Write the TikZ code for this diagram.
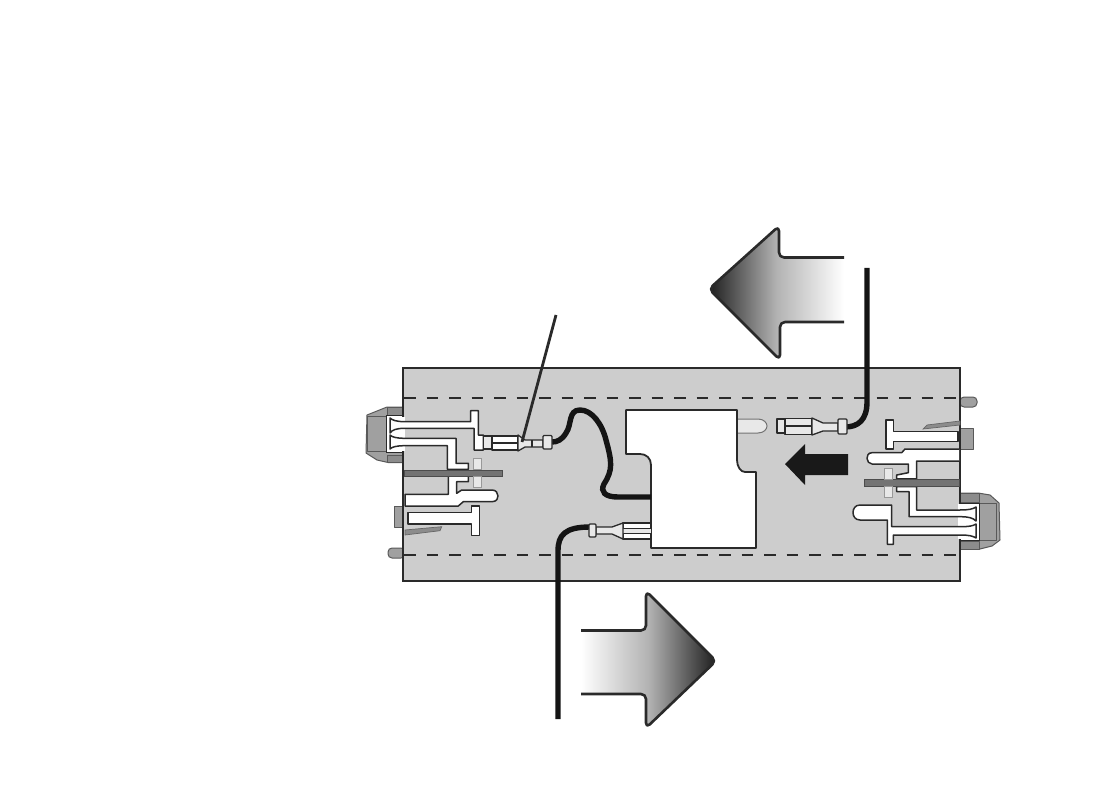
\documentclass[tikz,border=0pt]{standalone}
\definecolor{panel}{HTML}{CDCDCD}
\definecolor{ink}{HTML}{2A2A2A}
\definecolor{capgray}{HTML}{A0A0A0}
\definecolor{pale}{HTML}{E8E8E8}
\tikzset{
  term/.style={draw=ink,fill=white,line width=1.5pt,line join=round},
  capbox/.style={draw=black!65,fill=capgray,line width=1pt,line join=round},
  paletab/.style={draw=black!40,fill=pale,line width=1pt},
  cable/.style={draw=black!92,line width=5.4pt,line cap=butt},
  conn/.style={draw=ink,fill=pale,line width=1.3pt,line join=round},
  dashline/.style={draw=ink,line width=1.2pt,dash pattern=on 11.5pt off 11pt},
  barr/.style={draw=black!70,fill=black!55,line width=1pt},
  arrowline/.style={draw=ink,line width=2.6pt,line join=round,line cap=butt},
}
\begin{document}
\begin{tikzpicture}[x=1pt,y=-1pt]
\useasboundingbox (0,0) rectangle (1119,794);
% gradient arrows
\shade[left color=black!88,right color=white,middle color=black!30,rounded corners=5pt]
 (844,257.5) -- (779,257.5) -- (779,226) -- (709,289) -- (780,360) -- (780,322) -- (844,322) -- cycle;
\draw[arrowline,rounded corners=5pt] (844,257.5) -- (779,257.5) -- (779,226) -- (709,289) -- (780,360) -- (780,322) -- (844,322);
\shade[left color=white,right color=black!88,middle color=black!30,rounded corners=5pt]
 (581,630.5) -- (646,630.5) -- (646,591) -- (716,661) -- (646,728) -- (646,694) -- (581,694) -- cycle;
\draw[arrowline,rounded corners=5pt] (581,630.5) -- (646,630.5) -- (646,591) -- (716,661) -- (646,728) -- (646,694) -- (581,694);
% left ear behind panel
\path[capbox] (405,407) -- (387,407) -- (367,415) -- (366,453) -- (377,460) -- (388,462.5) -- (405,462.5) -- cycle;
\path[capbox,fill=black!45] (387,407) rectangle (405,415);
\path[capbox,fill=black!45] (387,455) rectangle (405,462.5);
\path[capbox] (367,416) rectangle (386,451.5);
\path[fill=white,draw=ink,line width=1pt] (386,415.5) rectangle (405,452);
% right ear
\path[capbox] (960,493) -- (978,493) -- (990,495) -- (999,503) -- (1000,540) -- (992,546) -- (980,549) -- (960,549) -- cycle;
\path[capbox,fill=black!45] (960,493) rectangle (979,502.5);
\path[capbox,fill=black!45] (960,541) rectangle (979,549);
\path[capbox] (979,503) rectangle (996,540);
\path[fill=white,draw=ink,line width=1pt] (960,503) rectangle (979,540);
% studs and tabs
\path[capbox,rounded corners=4pt] (405,548) -- (388,548) -- (388,558) -- (405,558) -- cycle;
\path[capbox,rounded corners=4pt] (960,397) -- (977,397) -- (977,407) -- (960,407) -- cycle;
\path[capbox] (394,506) rectangle (405,527);
\path[capbox] (960,428) rectangle (973,449);
% panel
\fill[panel] (403,368) rectangle (960,581);
\draw[ink,line width=2.2pt] (403,368) rectangle (960,581);
\draw[dashline] (404,398) -- (959,398);
\draw[dashline] (404,555) -- (959,555);
% white pockets at the panel edge
\fill[white] (400,416.5) rectangle (405,451);
\fill[white] (958,504) rectangle (963,539);
% left terminals
\path[term] (405,421.7) -- (470.7,421.7) -- (470.7,410.7) -- (478.3,410.7) -- (478.3,435) -- (483.3,435) -- (483.3,450) -- (474,450) -- (474,428.3) -- (405,428.3) .. controls (396,428.3) and (392,430) .. (390,433) -- (390,418) .. controls (392,420) and (396,421.7) .. (405,421.7) -- cycle;
\path[term] (405,438.3) -- (456,438.3) -- (456,463.3) -- (468.3,463.3) -- (468.3,469.3) -- (447.3,469.3) -- (447.3,445.7) -- (405,445.7) .. controls (396,445.7) and (392,447) .. (390,449) -- (390,435) .. controls (392,437) and (396,438.3) .. (405,438.3) -- cycle;
\path[term] (448.3,476) -- (448.3,494.3) -- (405,494.3) -- (405,506) -- (458.3,506) -- (463.3,501.7) -- (492,501.7) .. controls (497,501.7) and (498,498) .. (498,496) .. controls (498,493) and (496,490) .. (492,490) -- (461.7,490) -- (456.7,493.3) -- (456.7,481.7) -- (468.3,481.7) -- (468.3,476) -- cycle;
\path[term] (408,512.7) -- (471.7,512.7) -- (471.7,506) -- (479.3,506) -- (479.3,535.7) -- (471.7,535.7) -- (471.7,524) -- (408,524) -- cycle;
\path[draw=black!60,fill=black!45,line width=.7pt] (405,530) -- (441.7,526.7) -- (440,530.7) -- (405,535) -- cycle;
\path[barr] (404,470) rectangle (502,476);
\path[paletab] (473,458) rectangle (481,469);
\path[paletab] (473,476.5) rectangle (481,487);
% right terminals
\path[term] (886,420) -- (893.3,420) -- (893.3,431.7) -- (958,431.7) -- (958,441.7) -- (893.3,441.7) -- (893.3,449) -- (886,449) -- cycle;
\path[draw=black!60,fill=black!45,line width=.7pt] (923,429) -- (927,425) -- (960,421) -- (960,425) -- cycle;
\path[term] (959,449) -- (905,449) -- (901.7,452.7) -- (872,452.7) .. controls (868,452.7) and (867,456) .. (867,458.3) .. controls (867,461) and (869,464) .. (872,464) -- (908.3,464) -- (908.3,472.7) -- (896.7,475) -- (896.7,478.8) -- (916.7,478.8) -- (916.7,461) -- (959,461);
\path[term] (896.7,486.5) -- (916.7,486.5) -- (916.7,510) -- (960,510) .. controls (969,510) and (973,509) .. (976,507) -- (976,521) .. controls (973,518) and (969,516.7) .. (960,516.7) -- (909,516.7) -- (909,491.7) -- (896.7,491.7) -- cycle;
\path[term] (891.7,505) -- (860,505) .. controls (855,505) and (853,509) .. (853,512.5) .. controls (853,516) and (855,520) .. (860,520) -- (887.3,520) -- (887.3,544.3) -- (893.3,544.3) -- (893.3,535) -- (960,535) .. controls (969,535) and (973,536) .. (976,538) -- (976,524) .. controls (973,526) and (969,526.7) .. (960,526.7) -- (891.7,526.7) -- cycle;
\path[barr] (864,479.3) rectangle (959.5,486);
\path[paletab] (884,468) rectangle (892,479);
\path[paletab] (884,486) rectangle (892,497);
% module
\path[draw=black!55,fill=pale,line width=1pt] (737,419) -- (758,419) .. controls (764,419) and (767,423) .. (767,426) .. controls (767,429) and (764,433) .. (758,433) -- (737,433);
\path[term,line width=1.8pt] (626,410) -- (737,410) -- (737,460) .. controls (737,467) and (741,472) .. (745,472) -- (756,472) -- (756,548) -- (651,548) -- (651,465) .. controls (651,458) and (646,454) .. (640,454) -- (626,454) -- cycle;
% cables
\draw[cable] (651,497) -- (618,497) .. controls (605,497) and (600,492) .. (604,484) .. controls (613,470) and (612,462) .. (606,440) .. controls (602,424) and (592,410) .. (580,410) .. controls (568,410) and (572,425) .. (566,433) .. controls (562,440) and (557,442) .. (552,442);
\draw[cable] (558,719) -- (558,551) .. controls (558,535) and (565,527) .. (590,527);
\draw[cable] (867,268) -- (867,402) .. controls (867,420) and (858,427) .. (845,427);
% connector left
\path[conn] (483.3,436) rectangle (492,449);
\path[conn,fill=white] (492,436) rectangle (518,442.8);
\path[conn,fill=white] (492,443.6) rectangle (518,450);
\path[conn] (518,435) -- (525,440) -- (543,440) -- (543,447) -- (525,447) -- (518,451) -- cycle;
\path[conn] (532,440) -- (532,447);
\path[conn,rounded corners=1pt] (543,435.5) rectangle (552,449);
\draw[ink,line width=2.8pt] (556,315) -- (522,442);
% connector right
\path[conn] (777,419) rectangle (785,433);
\path[conn] (785,418.5) rectangle (812,426);
\path[conn] (785,426.8) rectangle (812,434.5);
\path[conn] (812,418) -- (823,423) -- (838,423) -- (838,431) -- (823,431) -- (812,435) -- cycle;
\path[conn,rounded corners=1pt] (838,419) rectangle (847,434);
% connector bottom
\fill[pale] (623,528) rectangle (651,534);
\path[conn,fill=white] (623,523) -- (651,523) -- (651,528.5) -- (623,528.5) -- cycle;
\path[conn,fill=white] (623,533.5) -- (651,533.5) -- (651,539) -- (623,539) -- cycle;
\path[conn] (623,523) -- (612,527) -- (596,527) -- (596,534) -- (612,534) -- (623,539) -- cycle;
\path[conn,rounded corners=1pt] (589,524) rectangle (596,537);
% black arrow
\fill[black!90] (785,464) -- (805,444) -- (805,454) -- (848,454) -- (848,475) -- (805,475) -- (805,485) -- cycle;
\end{tikzpicture}
\end{document}
